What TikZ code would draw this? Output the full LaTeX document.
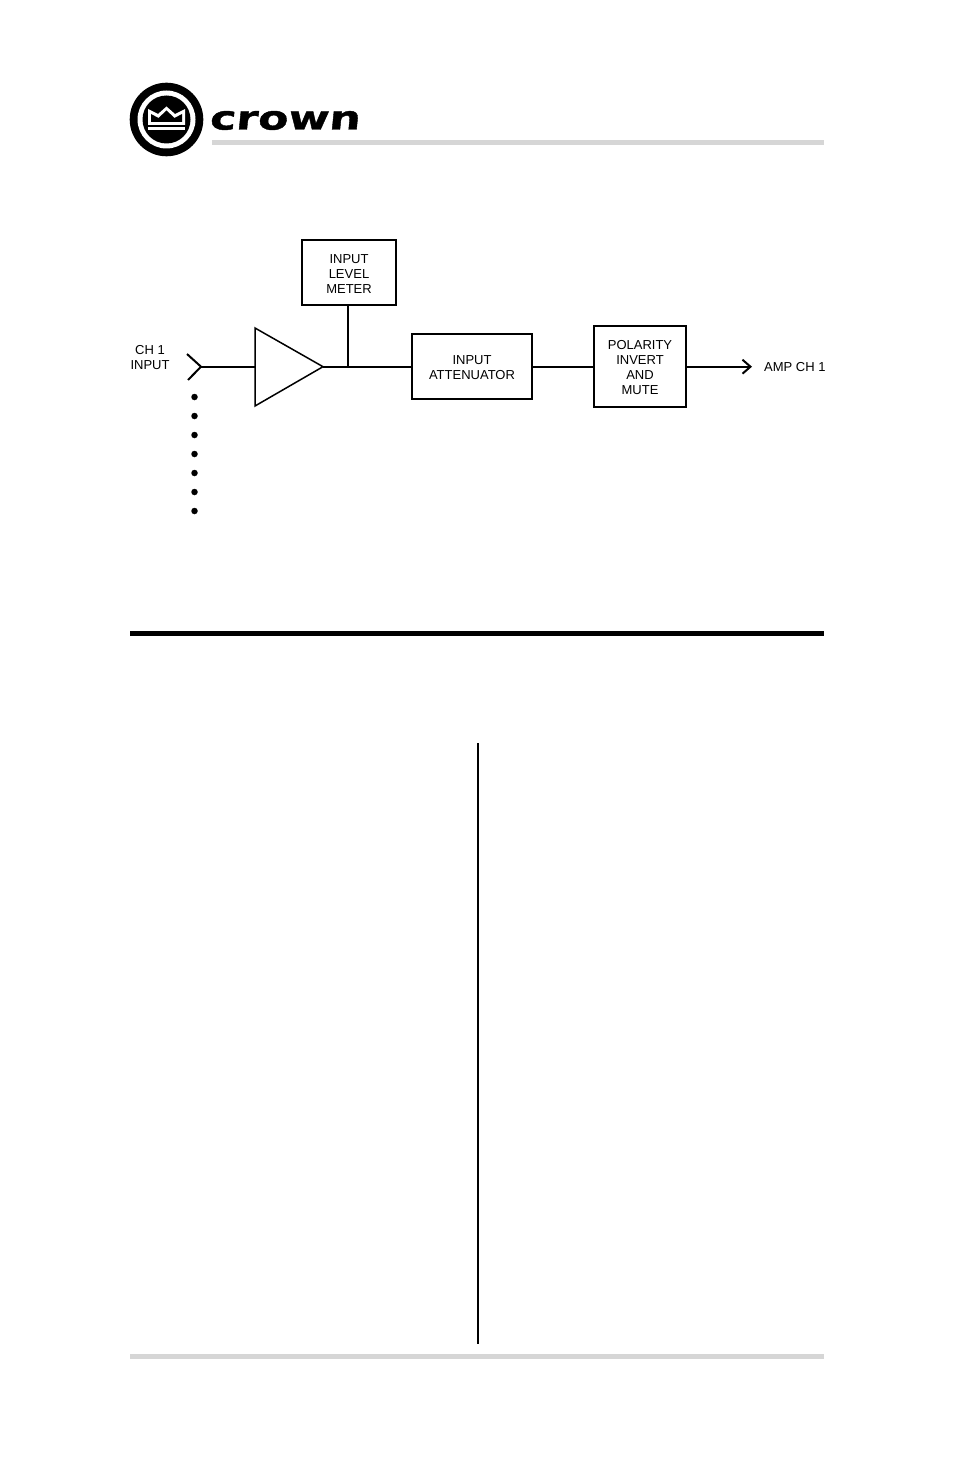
\documentclass[tikz,border=0pt]{standalone}
\usepackage{fontspec}
\setmainfont{Liberation Sans}
\newfontfamily\logofont[FakeSlant=0.1,FakeStretch=1.34,FakeBold=1.2]{DejaVu Sans Bold}
\usepackage{tikz}
\usetikzlibrary{arrows.meta, positioning}
\definecolor{rulegray}{RGB}{214,214,214}
\tikzset{
  blockbox/.style={draw, line width=2pt, inner sep=0pt},
  blocktext/.style={align=center, font=\fontsize{13}{15}\selectfont, inner sep=0pt, yshift=-1.2pt},
  sidelabel/.style={align=center, font=\fontsize{13}{15}\selectfont, inner sep=0pt},
  wire/.style={line width=2pt},
  inputdot/.style={circle, fill=black, minimum size=6.5pt, inner sep=0pt}
}

\begin{document}
\begin{tikzpicture}[x=1pt, y=-1pt]
  \useasboundingbox[fill=white] (0,0) rectangle (954,1474);
  % logo
  \fill[black] (166.5,119.5) circle (36.8);
  \fill[white] (166.5,119.5) circle (29);
  \fill[black] (166.5,119.5) circle (24);
  \fill[white] (148,109) -- (158,114) -- (166.5,106.5) -- (175,114) -- (185,109) -- (185,125) -- (148,125) -- cycle;
  \fill[black] (151,114) -- (158.5,118) -- (166.5,110.5) -- (174.5,118) -- (182,114) -- (182,122) -- (151,122) -- cycle;
  \fill[white] (148,127) rectangle (185,130);
  \node[anchor=base west, inner sep=0pt, font=\fontsize{33}{33}\logofont] (logotext) at (209,129.5) {crown};
  \fill[rulegray] (212,140) rectangle (824,145);
  % blocks
  \node[blockbox, minimum width=94pt, minimum height=65pt, label={[blocktext]center:INPUT\\LEVEL\\METER}] (meter) at (349,272.5) {};
  \node[blockbox, minimum width=120pt, minimum height=65pt, label={[blocktext]center:INPUT\\ATTENUATOR}] (atten) at (472,366.7) {};
  \node[blockbox, minimum width=92pt, minimum height=81pt, label={[blocktext]center:POLARITY\\INVERT\\AND\\MUTE}] (polar) at (640,366.7) {};
  \node[sidelabel] (chlabel) at (150,357.5) {CH 1\\INPUT};
  \node[sidelabel, anchor=west] (amplabel) at (764,367) {AMP CH 1};
  % amplifier
  \coordinate (ampin) at (255,366.7);
  \coordinate (ampout) at (323,366.7);
  \coordinate (tapoff) at (348,366.7);
  \coordinate (inpt) at (201,366.7);
  \draw[line width=1.5pt, line join=miter] (255,328) -- (ampout) -- (255,406) -- cycle;
  % connectors
  \draw[wire] (inpt) -- (ampin);
  \draw[wire] (187,354) -- (inpt) -- (188,380);
  \draw[wire] (ampout) -- (atten.west);
  \draw[wire] (tapoff |- meter.south) -- (tapoff);
  \draw[wire] (atten.east) -- (polar.west);
  \draw[wire, -{Straight Barb[length=8pt, width=14pt, line width=2pt]}] (polar.east) -- (752,366.7);
  % dots
  \foreach \y in {397,416,435,454,473,492,511} {
    \node[inputdot] at (194.5,\y) {};
  }
  % page rules
  \fill[black] (130,631) rectangle (824,636);
  \draw[line width=2pt] (478,743) -- (478,1344);
  \fill[rulegray] (130,1354) rectangle (824,1359);
\end{tikzpicture}
\end{document}
